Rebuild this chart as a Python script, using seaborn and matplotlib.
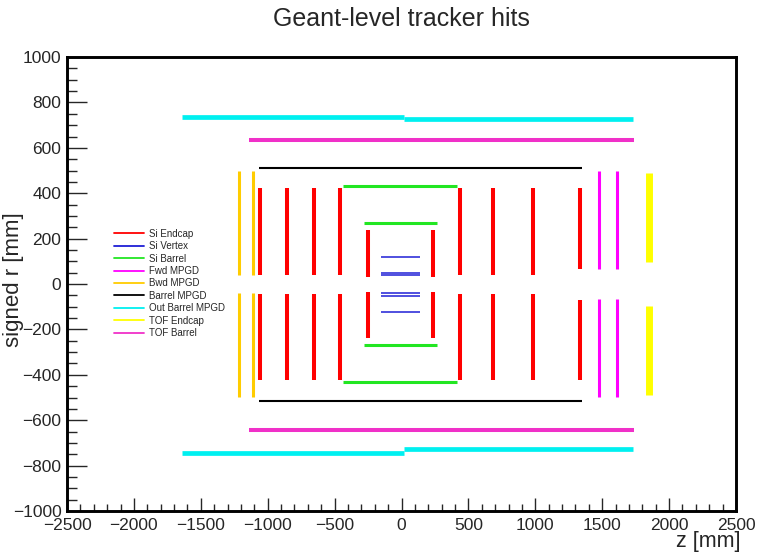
import pandas as pd
import matplotlib.pyplot as plt
import seaborn as sns
from matplotlib.lines import Line2D
from matplotlib.ticker import MultipleLocator

# detector segments: z0, z1, r0, r1 in mm
si_endcap_z = [-1058, -856, -654, -460, -250, 235, 437, 684, 983, 1334]
si_endcap_rin = [40, 40, 40, 40, 31, 31, 40, 40, 40, 66]
si_endcap_rout = [423, 423, 423, 421, 238, 238, 423, 423, 423, 423]

si_vertex_z = [-150, 140]
si_vertex_r = [120, 50, 38, -41, -53, -123]

si_barrel_z = [[-280, 265], [-437, 415]]
si_barrel_r = [270, 430]

fwd_mpgd_z = [1476, 1610]
fwd_mpgd_r = [66, 498]

bwd_mpgd_z = [-1215, -1113]
bwd_mpgd_r = [40, 496]

barrel_mpgd_z = [-1065, 1349]
barrel_mpgd_r = [511, -515]

out_barrel_z = [[-1640, 20], [20, 1730]]
out_barrel_r_top = [738, 725]
out_barrel_r_bot = [-744, -728]

tof_endcap_z = [1853]
tof_endcap_r = [95, 489]

tof_barrel_z = [-1140, 1738]
tof_barrel_r = [634, -643]

labels = ["Si Endcap", "Si Vertex", "Si Barrel", "Fwd MPGD", "Bwd MPGD",
          "Barrel MPGD", "Out Barrel MPGD", "TOF Endcap", "TOF Barrel"]
colors = ["#ff0000", "#1f1fd6", "#22e622", "#ff00ff", "#ffcc00",
          "#000000", "#00f0f0", "#ffff00", "#f030c8"]
widths = [2.9, 1.1, 2.2, 2.2, 2.2, 1.5, 3.4, 5.0, 2.9]


def segs_to_frame(segs):
    rows = []
    for i, (z0, z1, r0, r1) in enumerate(segs):
        rows.append((i, z0, r0))
        rows.append((i, z1, r1))
    return pd.DataFrame(rows, columns=["seg", "z", "r"])


segments = {}
s = []
for z, ri, ro in zip(si_endcap_z, si_endcap_rin, si_endcap_rout):
    s.append((z, z, ri, ro))
    s.append((z, z, -ri - 5, -ro))
segments["Si Endcap"] = s
segments["Si Vertex"] = [(si_vertex_z[0], si_vertex_z[1], r, r) for r in si_vertex_r]
s = []
for (z0, z1), r in zip(si_barrel_z, si_barrel_r):
    s.append((z0, z1, r, r))
    s.append((z0, z1, -r, -r))
segments["Si Barrel"] = s
segments["Fwd MPGD"] = [(z, z, a * fwd_mpgd_r[0], a * fwd_mpgd_r[1])
                        for z in fwd_mpgd_z for a in (1, -1)]
segments["Bwd MPGD"] = [(z, z, a * bwd_mpgd_r[0], a * bwd_mpgd_r[1])
                        for z in bwd_mpgd_z for a in (1, -1)]
segments["Barrel MPGD"] = [(barrel_mpgd_z[0], barrel_mpgd_z[1], r, r) for r in barrel_mpgd_r]
s = []
for (z0, z1), rt, rb in zip(out_barrel_z, out_barrel_r_top, out_barrel_r_bot):
    s.append((z0, z1, rt, rt))
    s.append((z0, z1, rb, rb))
segments["Out Barrel MPGD"] = s
segments["TOF Endcap"] = [(z, z, a * tof_endcap_r[0], a * tof_endcap_r[1])
                          for z in tof_endcap_z for a in (1, -1)]
segments["TOF Barrel"] = [(tof_barrel_z[0], tof_barrel_z[1], r, r) for r in tof_barrel_r]

sns.set_style("white")
plt.rcParams["font.family"] = ["Liberation Sans", "DejaVu Sans"]

fig, ax = plt.subplots(figsize=(7.58, 5.54), dpi=100)
fig.subplots_adjust(left=0.0884, right=0.971, top=0.897, bottom=0.0776)

for name, col, lw in zip(labels, colors, widths):
    df = segs_to_frame(segments[name])
    sns.lineplot(data=df, x="z", y="r", units="seg", estimator=None, sort=False,
                 color=col, lw=lw, ax=ax, solid_capstyle="butt")

ax.set_xlim(-2500, 2500)
ax.set_ylim(-1000, 1000)
ax.xaxis.set_major_locator(MultipleLocator(500))
ax.xaxis.set_minor_locator(MultipleLocator(100))
ax.yaxis.set_major_locator(MultipleLocator(200))
ax.yaxis.set_minor_locator(MultipleLocator(50))
ax.tick_params(axis="x", which="major", direction="in", length=9.4, width=1,
               labelsize=12.5, pad=5, top=False, bottom=True)
ax.tick_params(axis="x", which="minor", direction="in", length=5, width=1, top=False, bottom=True)
ax.tick_params(axis="y", which="major", direction="in", length=14.4, width=1,
               labelsize=12.5, pad=4, right=False, left=True)
ax.tick_params(axis="y", which="minor", direction="in", length=7.2, width=1, right=False, left=True)
for sp in ax.spines.values():
    sp.set_linewidth(2.1)
    sp.set_color("black")

ax.set_xlabel("z [mm]", fontsize=15.5, ha="right")
ax.xaxis.set_label_coords(1.006, -0.045)
ax.set_ylabel("signed r [mm]", fontsize=16)
ax.yaxis.set_label_coords(-0.064, 0.509)

fig.text(0.529, 0.965, "Geant-level tracker hits", fontsize=18, ha="center", va="center")

handles = [Line2D([], [], color=c, lw=1.3) for c in colors]
ax.legend(handles, labels, loc="upper left", bbox_to_anchor=(0.07, 0.622),
          frameon=False, fontsize=7, handlelength=3.1, handletextpad=0.5,
          labelspacing=0.25, borderpad=0, borderaxespad=0)

fig.savefig("out.png", dpi=100)
